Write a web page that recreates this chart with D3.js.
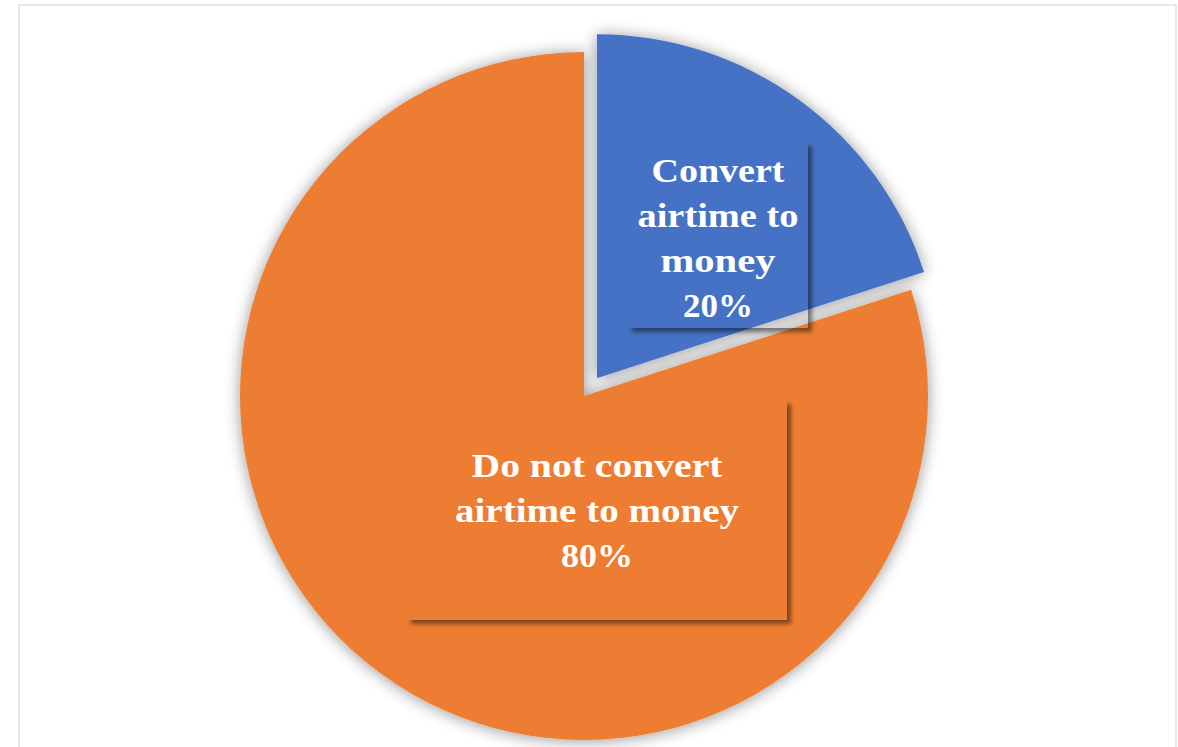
<!DOCTYPE html>
<html>
<head>
<meta charset="utf-8">
<script src="https://cdn.jsdelivr.net/npm/d3@7"></script>
<style>
  html, body { margin: 0; padding: 0; background: #ffffff; }
  svg { display: block; }
</style>
</head>
<body>
<svg id="chart" width="1178" height="747"></svg>
<script>
// Share of respondents who convert airtime to money
const categories = ["Convert airtime to money", "Do not convert airtime to money"];
const values = [20, 80];
const labelLines = [["Convert", "airtime to", "money"], ["Do not convert", "airtime to money"]];
const colors = ["#4472c4", "#ed7d31"];

// Layout
const W = 1178, H = 747;
const cx = 584, cy = 396, R = 344;
const explode = [22, 0];
const lineGap = 45;
const fontSize = 34;
const labelBoxes = [
  { x: 628, y: 142, w: 180, h: 186, cx: 718, firstBaseline: 182 },
  { x: 407, y: 400, w: 380, h: 220, cx: 597, firstBaseline: 477 }
];
// rendered widths of each text line (Palatino-like proportions)
const lineWidths = {
  "Convert": 133, "airtime to": 161, "money": 115, "20%": 70,
  "Do not convert": 251, "airtime to money": 284, "80%": 72
};

const svg = d3.select("#chart");
const defs = svg.append("defs");

// soft glow shadow under the pie
const pieShadow = defs.append("filter").attr("id", "pieShadow")
  .attr("x", "-20%").attr("y", "-20%").attr("width", "140%").attr("height", "140%");
pieShadow.append("feGaussianBlur").attr("in", "SourceAlpha").attr("stdDeviation", 8).attr("result", "b");
pieShadow.append("feOffset").attr("in", "b").attr("dx", 0).attr("dy", 1).attr("result", "o");
pieShadow.append("feComponentTransfer").attr("in", "o").attr("result", "s")
  .append("feFuncA").attr("type", "linear").attr("slope", 0.42);
const m1 = pieShadow.append("feMerge");
m1.append("feMergeNode").attr("in", "s");
m1.append("feMergeNode").attr("in", "SourceGraphic");

// blur for label box shadows
defs.append("filter").attr("id", "boxBlur")
  .attr("x", "-10%").attr("y", "-10%").attr("width", "120%").attr("height", "120%")
  .append("feGaussianBlur").attr("stdDeviation", 2);

// chart area border
svg.append("rect")
  .attr("x", 19).attr("y", 5).attr("width", 1157).attr("height", H + 20)
  .attr("fill", "#ffffff").attr("stroke", "#ece8de").attr("stroke-width", 2);

const pie = d3.pie().sort(null).value(d => d).startAngle(0).endAngle(2 * Math.PI);
const arcs = pie(values);
const arc = d3.arc().innerRadius(0).outerRadius(R);

const pieG = svg.append("g").attr("filter", "url(#pieShadow)");
pieG.selectAll("path")
  .data(arcs)
  .join("path")
  .attr("d", arc)
  .attr("fill", (d, i) => colors[i])
  .attr("transform", (d, i) => {
    const a = (d.startAngle + d.endAngle) / 2;
    const ox = cx + Math.sin(a) * explode[i];
    const oy = cy - Math.cos(a) * explode[i];
    return `translate(${ox},${oy})`;
  });

// data labels: shadowed boxes with category name and percentage
const total = d3.sum(values);
const fmt = d3.format(".0%");
labelBoxes.forEach((b, i) => {
  const maskId = "boxMask" + i;
  const mask = defs.append("mask").attr("id", maskId)
    .attr("maskUnits", "userSpaceOnUse").attr("x", 0).attr("y", 0).attr("width", W).attr("height", H);
  mask.append("rect").attr("width", W).attr("height", H).attr("fill", "#fff");
  mask.append("rect").attr("x", b.x).attr("y", b.y).attr("width", b.w).attr("height", b.h).attr("fill", "#000");

  const g = svg.append("g").attr("class", "label");
  g.append("rect")
    .attr("x", b.x + 4).attr("y", b.y + 4).attr("width", b.w).attr("height", b.h)
    .attr("fill", "#000").attr("opacity", 0.45)
    .attr("filter", "url(#boxBlur)")
    .attr("mask", `url(#${maskId})`);

  const lines = labelLines[i].concat([fmt(values[i] / total)]);
  const t = g.append("text")
    .attr("font-family", "'Liberation Serif', 'DejaVu Serif', serif")
    .attr("font-weight", "bold")
    .attr("font-size", fontSize)
    .attr("fill", "#ffffff")
    .attr("text-anchor", "middle");
  lines.forEach((ln, k) => {
    t.append("tspan")
      .attr("x", b.cx)
      .attr("y", b.firstBaseline + k * lineGap)
      .attr("textLength", lineWidths[ln])
      .attr("lengthAdjust", "spacingAndGlyphs")
      .text(ln);
  });
});
</script>
</body>
</html>
